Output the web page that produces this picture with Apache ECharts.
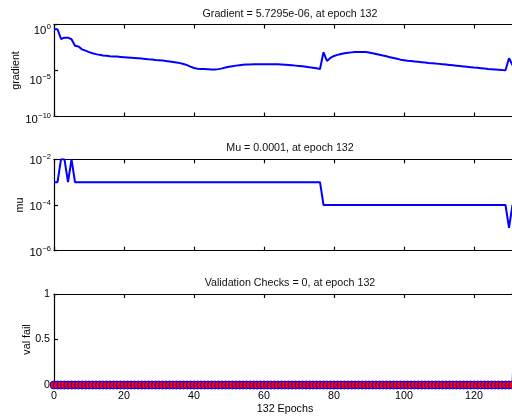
<!DOCTYPE html>
<html><head><meta charset="utf-8">
<script src="https://cdn.jsdelivr.net/npm/echarts@6/dist/echarts.min.js"></script>
<style>html,body{margin:0;padding:0;background:#fff}#c{width:512px;height:416px}</style>
</head><body><div id="c"></div>
<script>
// epoch index 0..132
const epochs = Array.from({length: 133}, (_, i) => i);

// log10 of gradient
const gradientLog10 = [
  -0.52,-0.52,-1.57,-1.43,-1.43,-1.60,-2.30,-2.40,-2.70,-2.84,
  -3.00,-3.13,-3.22,-3.30,-3.36,-3.40,-3.44,-3.47,-3.49,-3.52,
  -3.55,-3.58,-3.61,-3.64,-3.67,-3.70,-3.74,-3.78,-3.81,-3.85,
  -3.88,-3.92,-3.96,-4.01,-4.07,-4.13,-4.20,-4.30,-4.42,-4.58,
  -4.73,-4.80,-4.83,-4.85,-4.87,-4.89,-4.90,-4.85,-4.77,-4.68,
  -4.60,-4.53,-4.47,-4.42,-4.38,-4.36,-4.34,-4.33,-4.32,-4.32,
  -4.32,-4.32,-4.32,-4.32,-4.33,-4.35,-4.37,-4.39,-4.43,-4.47,
  -4.51,-4.55,-4.59,-4.65,-4.70,-4.76,-4.83,-3.02,-3.96,-3.62,
  -3.42,-3.30,-3.20,-3.13,-3.08,-3.03,-3.00,-2.98,-2.98,-3.00,
  -3.05,-3.12,-3.20,-3.29,-3.38,-3.46,-3.55,-3.64,-3.73,-3.82,
  -3.88,-3.94,-3.98,-4.02,-4.06,-4.10,-4.14,-4.18,-4.21,-4.25,
  -4.28,-4.32,-4.36,-4.40,-4.44,-4.48,-4.52,-4.56,-4.60,-4.64,
  -4.68,-4.71,-4.75,-4.79,-4.83,-4.86,-4.89,-4.92,-4.95,-4.97,
  -3.67,-4.40,-5.24
];

const mu = [
  1e-3,1e-3,1e-2,1e-2,1e-3,1e-2,
  1e-3,1e-3,1e-3,1e-3,1e-3,1e-3,1e-3,1e-3,1e-3,1e-3,
  1e-3,1e-3,1e-3,1e-3,1e-3,1e-3,1e-3,1e-3,1e-3,1e-3,
  1e-3,1e-3,1e-3,1e-3,1e-3,1e-3,1e-3,1e-3,1e-3,1e-3,
  1e-3,1e-3,1e-3,1e-3,1e-3,1e-3,1e-3,1e-3,1e-3,1e-3,
  1e-3,1e-3,1e-3,1e-3,1e-3,1e-3,1e-3,1e-3,1e-3,1e-3,
  1e-3,1e-3,1e-3,1e-3,1e-3,1e-3,1e-3,1e-3,1e-3,1e-3,
  1e-3,1e-3,1e-3,1e-3,1e-3,1e-3,1e-3,1e-3,1e-3,1e-3,
  1e-3,
  1e-4,1e-4,1e-4,1e-4,1e-4,1e-4,1e-4,1e-4,1e-4,1e-4,
  1e-4,1e-4,1e-4,1e-4,1e-4,1e-4,1e-4,1e-4,1e-4,1e-4,
  1e-4,1e-4,1e-4,1e-4,1e-4,1e-4,1e-4,1e-4,1e-4,1e-4,
  1e-4,1e-4,1e-4,1e-4,1e-4,1e-4,1e-4,1e-4,1e-4,1e-4,
  1e-4,1e-4,1e-4,1e-4,1e-4,1e-4,1e-4,1e-4,1e-4,1e-4,
  1e-4,1e-4,1e-4,
  1e-5,1e-4,1e-4
];

const valFail = [
  0,0,0,0,0,0,0,0,0,0, 0,0,0,0,0,0,0,0,0,0,
  0,0,0,0,0,0,0,0,0,0, 0,0,0,0,0,0,0,0,0,0,
  0,0,0,0,0,0,0,0,0,0, 0,0,0,0,0,0,0,0,0,0,
  0,0,0,0,0,0,0,0,0,0, 0,0,0,0,0,0,0,0,0,0,
  0,0,0,0,0,0,0,0,0,0, 0,0,0,0,0,0,0,0,0,0,
  0,0,0,0,0,0,0,0,0,0, 0,0,0,0,0,0,0,0,0,0,
  0,0,0,0,0,0,0,0,0,0, 0,0,1
];

const titles = [
  'Gradient = 5.7295e-06, at epoch 132',
  'Mu = 0.0001, at epoch 132',
  'Validation Checks = 0, at epoch 132'
];
const yNames = ['gradient', 'mu', 'val fail'];
const xName = '132 Epochs';
const xTicks = [0, 20, 40, 60, 80, 100, 120];
const gradTicks = [1e-10, 1e-5, 1];
const muTicks = [1e-6, 1e-4, 1e-2];
const valTicks = [0, 0.5, 1];

const FONT = 'Liberation Sans, Arial, sans-serif';
const BLUE = '#0000ff';

// power-of-ten tick labels: "10" with a raised exponent;
// per-label line-box height H places the "10" a little below its tick, as in the reference
function makeSupLabels(ticks, heights) {
  const rich = {};
  ticks.forEach((t, k) => {
    const H = heights[k];
    rich['b' + k] = {fontSize: 11.3, fontFamily: FONT, color: '#000', lineHeight: H,
      verticalAlign: 'bottom'};
    rich['s' + k] = {fontSize: 7.5, fontFamily: FONT, color: '#000', lineHeight: H,
      verticalAlign: 'bottom', padding: [0, 0, 5.5, 0.5]};
  });
  const formatter = (v) => {
    const e = Math.round(Math.log10(v));
    let k = 0, best = Infinity;
    ticks.forEach((t, j) => {
      const d = Math.abs(Math.log10(t) - e);
      if (d < best) { best = d; k = j; }
    });
    const s = e < 0 ? '\u2212' + (-e) : String(e);
    return '{b' + k + '|10}{s' + k + '|' + s + '}';
  };
  return {rich, formatter};
}
const gradLab = makeSupLabels(gradTicks, [18, 31, 23]);
const muLab = makeSupLabels(muTicks, [15, 15, 15]);

const gridDefs = [
  {left: 54, top: 24.5, width: 462, height: 92, outerBoundsMode: 'none', containLabel: false},
  {left: 54, top: 159.3, width: 462, height: 91.4, outerBoundsMode: 'none', containLabel: false},
  {left: 54, top: 294, width: 462, height: 91, outerBoundsMode: 'none', containLabel: false}
];

const axisLineStyle = {color: '#000', width: 1.2};
const xAxes = [];
gridDefs.forEach((g, i) => {
  xAxes.push({
    type: 'value', gridIndex: i, min: 0, max: 132, position: 'bottom',
    axisLine: {show: true, onZero: false, lineStyle: axisLineStyle},
    axisTick: {show: true, inside: true, length: 4, lineStyle: axisLineStyle, customValues: xTicks},
    axisLabel: {show: i === 2, customValues: xTicks, color: '#000', fontSize: 10.7, fontFamily: FONT, margin: 6},
    splitLine: {show: false},
    name: i === 2 ? xName : '', nameLocation: 'middle', nameGap: 19, nameMoveOverlap: false,
    nameTextStyle: {color: '#000', fontSize: 10.7, fontFamily: FONT}
  });
  xAxes.push({
    type: 'value', gridIndex: i, min: 0, max: 132, position: 'top',
    axisLine: {show: true, onZero: false, lineStyle: axisLineStyle},
    axisTick: {show: true, inside: true, length: 4, lineStyle: axisLineStyle, customValues: xTicks},
    axisLabel: {show: false},
    splitLine: {show: false}
  });
});

const yCommon = {
  axisLine: {show: true, onZero: false, lineStyle: axisLineStyle},
  splitLine: {show: false},
  nameLocation: 'middle', nameRotate: 90, nameMoveOverlap: false,
  nameTextStyle: {color: '#000', fontSize: 10.7, fontFamily: FONT}
};
const yAxes = [
  Object.assign({}, yCommon, {
    type: 'log', logBase: 10, gridIndex: 0, min: 1e-10, max: 1,
    name: yNames[0], nameGap: 32,
    axisTick: {show: true, inside: true, length: 4, lineStyle: axisLineStyle, customValues: gradTicks},
    axisLabel: {customValues: gradTicks, formatter: gradLab.formatter, rich: gradLab.rich, margin: 3},
    minorTick: {show: false}
  }),
  Object.assign({}, yCommon, {
    type: 'log', logBase: 10, gridIndex: 1, min: 1e-6, max: 1e-2,
    name: yNames[1], nameGap: 28,
    axisTick: {show: true, inside: true, length: 4, lineStyle: axisLineStyle, customValues: muTicks},
    axisLabel: {customValues: muTicks, formatter: muLab.formatter, rich: muLab.rich, margin: 3}
  }),
  Object.assign({}, yCommon, {
    type: 'value', gridIndex: 2, min: 0, max: 1,
    name: yNames[2], nameGap: 21,
    axisTick: {show: true, inside: true, length: 4, lineStyle: axisLineStyle, customValues: valTicks},
    axisLabel: {customValues: valTicks, color: '#000', fontSize: 10.7, fontFamily: FONT, margin: 4}
  })
];

const option = {
  animation: false,
  backgroundColor: '#fff',
  title: titles.map((t, i) => ({
    text: t, left: 285, textAlign: 'center',
    top: [4, 138, 273][i],
    textStyle: {fontSize: 10.7, fontWeight: 'normal', color: '#111', fontFamily: FONT}
  })),
  grid: gridDefs,
  xAxis: xAxes,
  yAxis: yAxes,
  series: [
    {
      type: 'line', xAxisIndex: 0, yAxisIndex: 0, showSymbol: false,
      lineStyle: {color: BLUE, width: 2}, clip: true,
      data: epochs.map((e, i) => [e, Math.pow(10, gradientLog10[i])])
    },
    {
      type: 'line', xAxisIndex: 2, yAxisIndex: 1, showSymbol: false,
      lineStyle: {color: BLUE, width: 2}, clip: true,
      data: epochs.map((e, i) => [e, mu[i]])
    },
    {
      type: 'line', xAxisIndex: 4, yAxisIndex: 2,
      showSymbol: true, showAllSymbol: true, symbol: 'circle', symbolSize: 8,
      itemStyle: {color: '#ff0000', borderColor: BLUE, borderWidth: 1},
      lineStyle: {color: BLUE, width: 2}, clip: false,
      data: epochs.map((e, i) => [e, valFail[i]])
    }
  ]
};

const chart = echarts.init(document.getElementById('c'), null, {renderer: 'canvas'});
chart.setOption(option);
</script>
</body></html>
